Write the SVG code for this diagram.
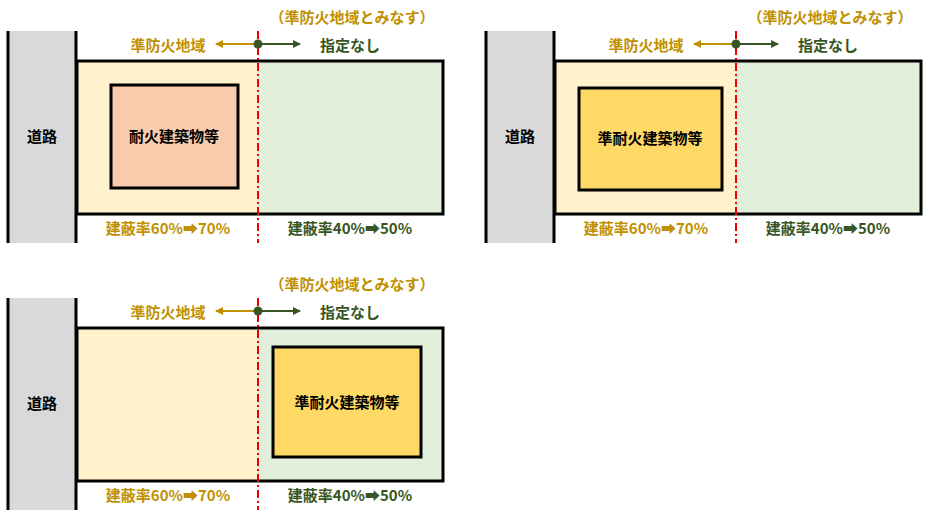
<svg xmlns="http://www.w3.org/2000/svg" width="932" height="515" viewBox="0 0 932 515">
<style>
text{font-family:"Noto Sans CJK JP","Noto Sans",sans-serif;font-weight:bold}
.road{fill:#d9d9d9}
.rl{stroke:#000;stroke-width:3}
.lot{stroke:#000;stroke-width:3;fill:none}
.y{fill:#fff2cc}.g{fill:#e2efda}
.or{fill:#c09000;font-size:15px}
.gr{fill:#375623;font-size:15px}
.bk{fill:#000;font-size:15px}
.red{stroke:#e00;stroke-width:2;stroke-dasharray:8,3,2,3}
.bld{stroke:#000;stroke-width:3}
</style>
<defs>
<marker id="ao" markerWidth="8" markerHeight="8" refX="7" refY="4" orient="auto-start-reverse" markerUnits="userSpaceOnUse"><path d="M0,0L8,4L0,8z" fill="#c09000"/></marker>
<marker id="ag" markerWidth="8" markerHeight="8" refX="7" refY="4" orient="auto" markerUnits="userSpaceOnUse"><path d="M0,0L8,4L0,8z" fill="#375623"/></marker>
<g id="panel">
<rect class="road" x="8" y="31" width="68" height="212"/>
<line class="rl" x1="8" y1="31" x2="8" y2="243"/>
<line class="rl" x1="76" y1="31" x2="76" y2="243"/>
<text x="42" y="142" text-anchor="middle" class="bk">道路</text>
<rect class="y" x="77" y="61" width="181" height="153"/>
<rect class="g" x="258" y="61" width="185" height="153"/>
<rect class="lot" x="77" y="61" width="366" height="153"/>
<text x="352" y="23" text-anchor="middle" class="or">（準防火地域とみなす）</text>
<text x="168" y="51" text-anchor="middle" class="or">準防火地域</text>
<text x="350" y="51" text-anchor="middle" class="gr">指定なし</text>
<line x1="258" y1="44" x2="216" y2="44" stroke="#c09000" stroke-width="2" marker-end="url(#ao)"/>
<line x1="258" y1="44" x2="300" y2="44" stroke="#375623" stroke-width="2" marker-end="url(#ag)"/>
<text x="168" y="234" text-anchor="middle" class="or">建蔽率60%➡70%</text>
<text x="350" y="234" text-anchor="middle" class="gr">建蔽率40%➡50%</text>
</g>
</defs>
<g id="p1">
<use href="#panel"/>
<rect class="bld" x="111" y="85" width="127" height="103" fill="#f8cbad"/>
<text x="174" y="142" text-anchor="middle" class="bk">耐火建築物等</text>
</g>
<g id="p2" transform="translate(478,0)">
<use href="#panel"/>
<rect class="bld" x="101" y="88" width="143" height="102" fill="#ffd966"/>
<text x="172" y="144" text-anchor="middle" class="bk">準耐火建築物等</text>
</g>
<g id="p3" transform="translate(0,267)">
<use href="#panel"/>
<rect class="bld" x="273" y="80" width="148" height="110" fill="#ffd966"/>
<text x="347" y="141" text-anchor="middle" class="bk">準耐火建築物等</text>
</g>
<g id="connectors">
<line class="red" x1="258" y1="31" x2="258" y2="243"/>
<line class="red" x1="736" y1="31" x2="736" y2="243"/>
<line class="red" x1="258" y1="298" x2="258" y2="510"/>
<circle cx="258" cy="44" r="4.5" fill="#375623"/>
<circle cx="736" cy="44" r="4.5" fill="#375623"/>
<circle cx="258" cy="311" r="4.5" fill="#375623"/>
</g>
</svg>
